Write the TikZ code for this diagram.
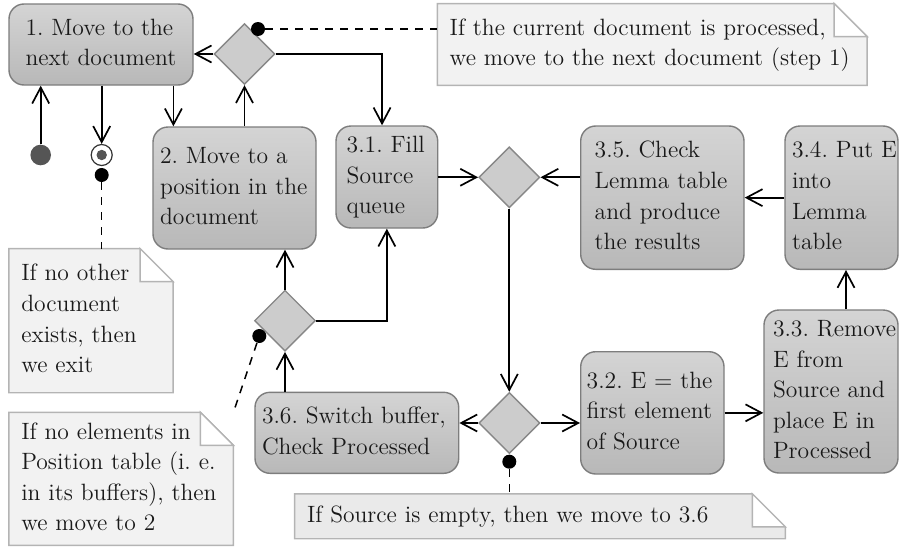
\documentclass[tikz,border=0pt]{standalone}
\usetikzlibrary{shapes.geometric, arrows.meta, backgrounds}
\definecolor{boxtop}{RGB}{212,212,212}
\definecolor{boxbot}{RGB}{184,184,184}
\definecolor{boxdraw}{RGB}{125,125,125}
\definecolor{diafill}{RGB}{204,204,204}
\definecolor{diadraw}{RGB}{135,135,135}
\definecolor{notefill}{RGB}{242,242,242}
\definecolor{notefillb}{RGB}{234,234,234}
\definecolor{notedraw}{RGB}{180,180,180}
\definecolor{startfill}{RGB}{85,85,85}
\definecolor{txt}{RGB}{25,25,25}
\newcommand\boxtext[1]{\begin{tabular}{@{}l@{}}#1\end{tabular}}
\newcommand\dogear[2]{%
  \begin{scope}[on background layer]
    \filldraw[draw=notedraw, fill=#2, line width=0.7pt] (#1.north west) -- ([xshift=-16.5pt]#1.north east) -- ([yshift=-16.5pt]#1.north east) -- (#1.south east) -- (#1.south west) -- cycle;
    \filldraw[draw=notedraw, fill=white, line width=0.7pt] ([xshift=-16.5pt]#1.north east) |- ([yshift=-16.5pt]#1.north east) -- cycle;
  \end{scope}}
\frenchspacing
\begin{document}
\begin{tikzpicture}[x=0.5pt,y=-0.5pt,
  every node/.append style={font=\fontsize{11.8}{15.3}\selectfont\frenchspacing, text=txt},
  box/.style={rectangle, rounded corners=7.5pt, draw=boxdraw, line width=0.7pt, top color=boxtop, bottom color=boxbot, inner ysep=0pt},
  note/.style={rectangle, inner ysep=0pt, inner xsep=6pt},
  dia/.style={diamond, draw=diadraw, line width=0.7pt, fill=diafill, minimum width=30.5pt, minimum height=30.5pt, inner sep=0pt},
  dotm/.style={circle, fill=black, minimum size=7pt, inner sep=0pt},
  arr/.style={-{Straight Barb[length=8pt,width=8.5pt,line width=0.85pt]}, line width=0.85pt, draw=black},
  link/.style={dash pattern=on 4pt off 3.5pt, line width=0.75pt, draw=black}
]
\useasboundingbox (0,0) rectangle (899,546);

% action boxes
\node[box, minimum width=92pt, minimum height=40.5pt] (box1) at (101,44.5) {\boxtext{1. Move to the\\next document}};
\node[box, minimum width=81.5pt, minimum height=61pt, inner xsep=3.5pt, text width=74.5pt] (box2) at (234.5,188) {\boxtext{2. Move to a\\position in the\\document}};
\node[box, minimum width=50.85pt, minimum height=51pt, inner xsep=5.35pt, text width=40.15pt] (b31) at (386.85,177) {\boxtext{3.1. Fill\\Source\\queue}};
\node[box, minimum width=81.65pt, minimum height=71.65pt, inner xsep=7pt, text width=67.65pt] (b35) at (662.35,197.65) {\boxtext{3.5. Check\\Lemma table\\and produce\\the results}};
\node[box, minimum width=56.5pt, minimum height=71.65pt, inner xsep=3.5pt, text width=49.5pt] (b34) at (841.5,197.65) {\boxtext{3.4. Put E\\into\\Lemma\\table}};
\node[box, minimum width=67pt, minimum height=81.5pt, inner xsep=4.5pt, text width=58pt] (b33) at (831,391.5) {\boxtext{3.3. Remove\\E from\\Source and\\place E in\\Processed}};
\node[box, minimum width=71.65pt, minimum height=61.15pt, inner xsep=3pt, text width=65.65pt] (b32) at (652.35,412.85) {\boxtext{3.2. E $=$ the\\first element\\of Source}};
\node[box, minimum width=101.85pt, minimum height=40.5pt, inner xsep=3.5pt, text width=94.85pt] (b36) at (356.85,432.8) {\boxtext{3.6. Switch buffer,\\Check Processed}};

% decisions
\node[dia] (d1) at (244.5,54) {};
\node[dia] (d2) at (509.3,177.3) {};
\node[dia] (d3) at (509.3,423) {};
\node[dia] (d4) at (285,320.7) {};

% initial and final
\node[circle, fill=startfill, minimum size=10.3pt, inner sep=0pt] (start) at (40.7,155) {};
\node[circle, draw=black!80, line width=0.6pt, fill=white, minimum size=10.5pt, inner sep=0pt,
  path picture={\fill[startfill] (path picture bounding box.center) circle (2.6pt);}] (final) at (101.7,155) {};

% notes
\node[note, minimum width=214.5pt, minimum height=40.5pt, text width=202.5pt] (n1) at (652.2,44.5) {\boxtext{If the current document is processed,\\we move to the next document (step 1)}};
\dogear{n1}{notefill}
\node[note, minimum width=81.7pt, minimum height=71.65pt, text width=69.7pt] (n2) at (91,320.65) {\boxtext{If no other\\document\\exists, then\\we exit}};
\dogear{n2}{notefill}
\node[note, minimum width=111.85pt, minimum height=66.15pt, text width=99.85pt] (n3) at (121.15,478.85) {\boxtext{If no elements in\\Position table (i. e.\\in its buffers), then\\we move to 2}};
\dogear{n3}{notefill}
\node[note, minimum width=245pt, minimum height=22pt, text width=233pt] (n4) at (540,516.3) {\boxtext{If Source is empty, then we move to 3.6}};
\dogear{n4}{notefillb}

% connectors
\draw[arr] (start) -- (start |- box1.south);
\draw[arr] (final |- box1.south) -- (final);
\draw[arr] ([xshift=-10.15pt]box1.south east) -- ([xshift=-10.15pt]box1.south east |- box2.north);
\draw[arr] (d1.south |- box2.north) -- (d1.south);
\draw[arr] (d1.west) -- (d1.west -| box1.east);
\draw[arr] (d1.east) -| ([xshift=-2.4pt]b31.north);
\draw[arr] (b31.east |- d2) -- (d2.west);
\draw[arr] (b35.west |- d2) -- (d2.east);
\draw[arr] (b34.west) -- (b35.east);
\draw[arr] ([xshift=2.25pt]b34.south |- b33.north) -- ([xshift=2.25pt]b34.south);
\draw[arr] (d2.south) -- (d3.north);
\draw[arr] (d3.east) -- (d3.east -| b32.west);
\draw[arr] (b32.east) -- (b32.east -| b33.west);
\draw[arr] (d3.west) -- (d3.west -| b36.east);
\draw[arr] (d4.south |- b36.north) -- (d4.south);
\draw[arr] (d4.north) -- (d4.north |- box2.south);
\draw[arr] (d4.east) -| (b31.south);

% comment anchors
\node[dotm] (dot1) at (258,29) {};
\node[dotm] (dot2) at (101.7,175) {};
\node[dotm] (dot3) at (259.3,336) {};
\node[dotm] (dot4) at (509.3,461.7) {};
\draw[link] (dot1) -- (dot1 -| n1.west);
\draw[link] (dot2) -- (dot2 |- n2.north);
\draw[link] (dot3) -- (n3.north east);
\draw[link] (dot4) -- (dot4 |- n4.north);
\end{tikzpicture}
\end{document}
